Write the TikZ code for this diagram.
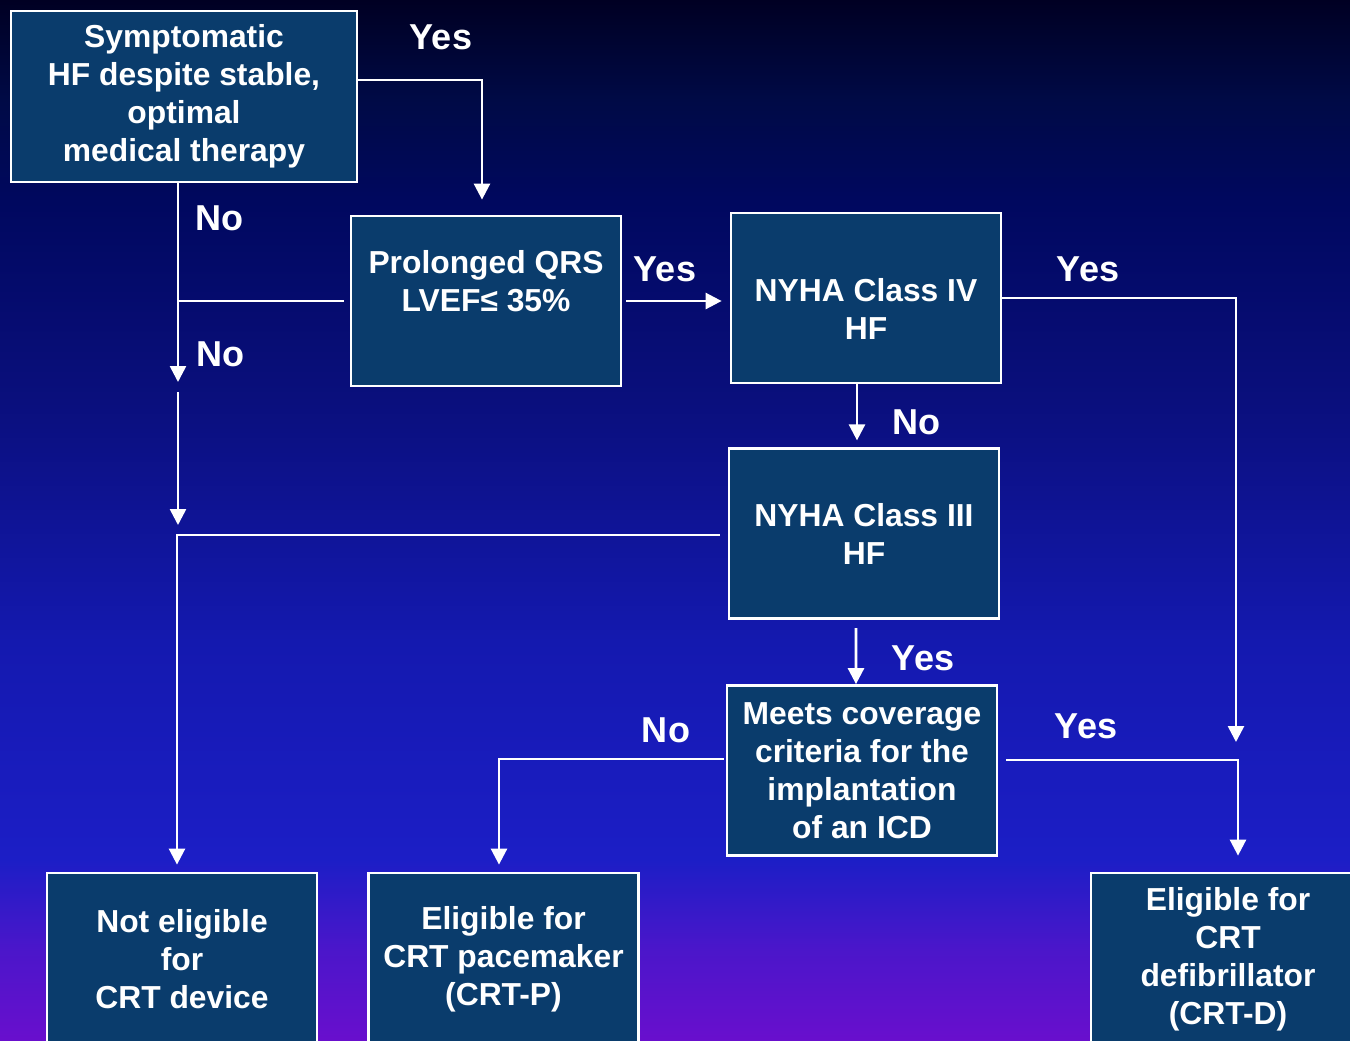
\documentclass[tikz,border=0pt]{standalone}
\usepackage{fontspec}
\setmainfont{Liberation Sans}
\usetikzlibrary{arrows.meta,positioning,calc}
\definecolor{CajaAzul}{RGB}{10,60,108}
\definecolor{FondoA}{RGB}{105,15,205}
\definecolor{FondoB}{RGB}{75,22,202}
\definecolor{FondoC}{RGB}{28,30,198}
\definecolor{FondoD}{RGB}{20,25,175}
\definecolor{FondoE}{RGB}{10,15,125}
\definecolor{FondoF}{RGB}{0,8,95}
\definecolor{FondoG}{RGB}{0,10,70}
\definecolor{FondoH}{RGB}{0,0,35}
\pgfdeclareverticalshading{fondo}{100bp}{color(0bp)=(FondoA); color(25bp)=(FondoA);
  color(29.4bp)=(FondoB); color(33.7bp)=(FondoC); color(44.2bp)=(FondoD);
  color(55.7bp)=(FondoE); color(65.3bp)=(FondoF); color(70.2bp)=(FondoG);
  color(75bp)=(FondoH); color(100bp)=(FondoH)}
\newcommand\cajafont{\fontsize{18.1}{21.6}\selectfont\bfseries}
\newcommand\respfont{\fontsize{20.5}{24}\selectfont\bfseries}
\tikzset{
  cajabox/.style={draw=white, line width=1.6pt, fill=CajaAzul, text=white,
    align=center, minimum width=#1, minimum height=3.4cm, font=\cajafont, inner sep=2pt},
  cajabox/.default=5.4cm,
  hfarr/.style={-{Triangle[length=0.32cm, width=0.32cm]}, line width=1.5pt, white},
  hflinea/.style={line width=1.5pt, white},
  resp/.style={text=white, font=\respfont, inner sep=0pt},
}
\begin{document}
\begin{tikzpicture}[x=0.02cm, y=-0.02cm]
    \useasboundingbox (0,0) rectangle (1350,1041);
    \clip (0,0) rectangle (1350,1041);
    \shade[shading=fondo] (0,0) rectangle (1350,1041);

    \node[cajabox=6.92cm, minimum height=3.42cm] (sintom) at (184,96.5) {Symptomatic\\HF despite stable,\\optimal\\medical therapy};
    \node[cajabox] (qrs) at (486,301) {Prolonged QRS\\LVEF≤ 35\%\\[-5.7pt]\strut};
    \node[cajabox] (clase4) at (866,298) {\strut\\[-11.2pt]NYHA Class IV\\HF};
    \node[cajabox, below=1.26cm of clase4, xshift=-0.04cm] (clase3) {NYHA Class III\\HF};
    \node[cajabox, below=1.28cm of clase3, xshift=-0.04cm] (icd) {Meets coverage\\criteria for the\\implantation\\of an ICD};

    \node[cajabox, minimum height=3.44cm] (noeleg) at (182,959) {Not eligible\\for\\CRT device};
    \node[cajabox, minimum height=3.44cm] (crtp) at (503.5,959) {Eligible for\\CRT pacemaker\\(CRT-P)};
    \node[cajabox=5.48cm, minimum height=3.44cm] (crtd) at (1228,959) {Eligible for\\CRT\\defibrillator\\(CRT-D)};

    \coordinate (giro1) at (482,80);
    \coordinate (noA) at (178,382);
    \coordinate (noB) at (178,392);
    \coordinate (noC) at (178,525);
    \coordinate (giro3) at (177,535);
    \coordinate (giro4) at (1236,742);
    \coordinate (giro5) at (499,759);
    \coordinate (giro6) at (1238,760);

    \draw[hfarr, shorten >=0.3cm] (sintom.east |- giro1) -- (giro1) -- (giro1 |- qrs.north);
    \draw[hfarr] (sintom.south -| noA) -- (noA);
    \draw[hflinea, shorten <=0.12cm] (qrs.west) -- (noA |- qrs.west);
    \draw[hfarr] (noB) -- (noC);
    \draw[hfarr, shorten <=0.16cm, shorten >=0.14cm] (clase3.west |- giro3) -- (giro3) -- (giro3 |- noeleg.north);
    \draw[hfarr, shorten <=0.08cm, shorten >=0.16cm] (qrs.east) -- (clase4.west |- qrs.east);
    \draw[hfarr] (clase4.east) -| (giro4);
    \draw[hfarr, shorten >=0.14cm] ([xshift=-0.18cm]clase4.south) -- ([xshift=-0.14cm]clase3.north);
    \draw[hfarr, shorten <=0.16cm] ([xshift=-0.16cm]clase3.south) -- ([xshift=-0.12cm]icd.north);
    \draw[hfarr, shorten <=0.04cm, shorten >=0.14cm] (icd.west |- giro5) -- (giro5) -- (giro5 |- crtp.north);
    \draw[hfarr, shorten <=0.16cm, shorten >=0.32cm] (icd.east |- giro6) -- (giro6) -- (giro6 |- crtd.north);

    \node[resp] (si1) at (441,37) {Yes};
    \node[resp] (no1) at (220,218) {No};
    \node[resp] (no2) at (221,354) {No};
    \node[resp] (si2) at (665,269) {Yes};
    \node[resp] (si3) at (1088,269) {Yes};
    \node[resp] (no3) at (916,422) {No};
    \node[resp] (si4) at (923,658) {Yes};
    \node[resp] (no4) at (666,730) {No};
    \node[resp] (si5) at (1086,726) {Yes};
  \end{tikzpicture}
\end{document}
